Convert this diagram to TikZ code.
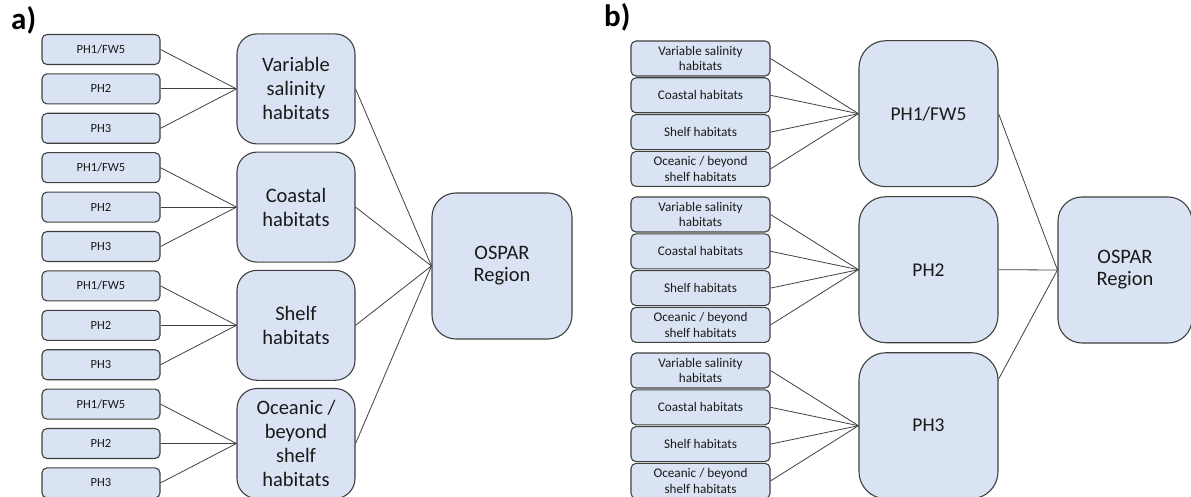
\documentclass[tikz,border=0pt]{standalone}
\usepackage{fontspec}
\setmainfont{Carlito}
\usetikzlibrary{calc}
\definecolor{boxfill}{HTML}{DAE3F3}
\definecolor{boxline}{HTML}{404040}
\definecolor{txt}{HTML}{1A1A1A}
\tikzset{
  base/.style={draw=boxline, fill=boxfill, line width=1.1pt, inner sep=0pt, align=center, text=txt},
  smalla/.style={base, minimum width=118pt, minimum height=30pt, rounded corners=5pt, font=\fontsize{12.5}{14}\selectfont},
  mida/.style={base, minimum width=118pt, minimum height=110pt, rounded corners=20pt, font=\fontsize{20.5}{24}\selectfont},
  ospar/.style={base, minimum width=140pt, minimum height=146pt, rounded corners=24pt, font=\fontsize{20.5}{22}\selectfont},
  smallb/.style={base, minimum width=139pt, minimum height=35pt, rounded corners=5pt, font=\fontsize{13.2}{15.5}\selectfont},
  bigb/.style={base, minimum width=139pt, minimum height=146pt, rounded corners=27pt, font=\fontsize{19.5}{23}\selectfont},
  conn/.style={draw=boxline, line width=0.8pt},
  lbl/.style={font=\fontsize{31}{34}\selectfont\bfseries, inner sep=0pt, text=black}
}
\begin{document}
\begin{tikzpicture}[x=1pt,y=-1pt]
\useasboundingbox (0,0) rectangle (1191,497);
% labels
\node[lbl, anchor=north west] (la) at (11,6) {a)};
\node[lbl, anchor=north west] (lb) at (604,3) {b)};
% ---------- panel a ----------
\foreach \g/\name/\txt in {0/va/{Variable\\salinity\\habitats},1/ca/{Coastal\\habitats},2/sa/{Shelf\\habitats},3/oa/{Oceanic /\\beyond\\shelf\\habitats}}{
  \pgfmathsetmacro{\yc}{88.9+118.2*\g}
  \node[mida] (\name) at (296,\yc) {\txt};
  \foreach \k/\t in {0/{PH1/FW5},1/PH2,2/PH3}{
    \pgfmathsetmacro{\ys}{49.5+118.2*\g+39.4*\k}
    \node[smalla] (\name s\k) at (101,\ys) {\t};
    \draw[conn] (\name s\k.east) -- (\name.west);
  }
}
\node[ospar] (ospa) at (502,266) {OSPAR\\Region};
\foreach \name in {va,ca,sa,oa}{
  \draw[conn] (\name.east) -- (ospa.west);
}
% ---------- panel b ----------
\foreach \g/\name/\txt in {0/pa/{PH1/FW5},1/pb/PH2,2/pc/PH3}{
  \pgfmathsetmacro{\yc}{113.7+156*\g}
  \node[bigb] (\name) at (928.5,\yc) {\txt};
  \foreach \k/\t in {0/{Variable salinity\\habitats},1/{Coastal habitats},2/{Shelf habitats},3/{Oceanic / beyond\\shelf habitats}}{
    \pgfmathsetmacro{\ys}{58.5+156*\g+36.8*\k}
    \node[smallb] (\name s\k) at (700.5,\ys) {\t};
    \draw[conn] (\name s\k.east) -- (\name.west);
  }
}
\node[ospar, minimum width=134pt] (ospb) at (1125,270) {OSPAR\\Region};
\coordinate (pcout) at ($(pc.north east)+(0,27)$);
\draw[conn] (pa.east) -- (ospb.west);
\draw[conn] (pb.east) -- (ospb.west);
\draw[conn] (pcout) -- (ospb.west);
\end{tikzpicture}
\end{document}
